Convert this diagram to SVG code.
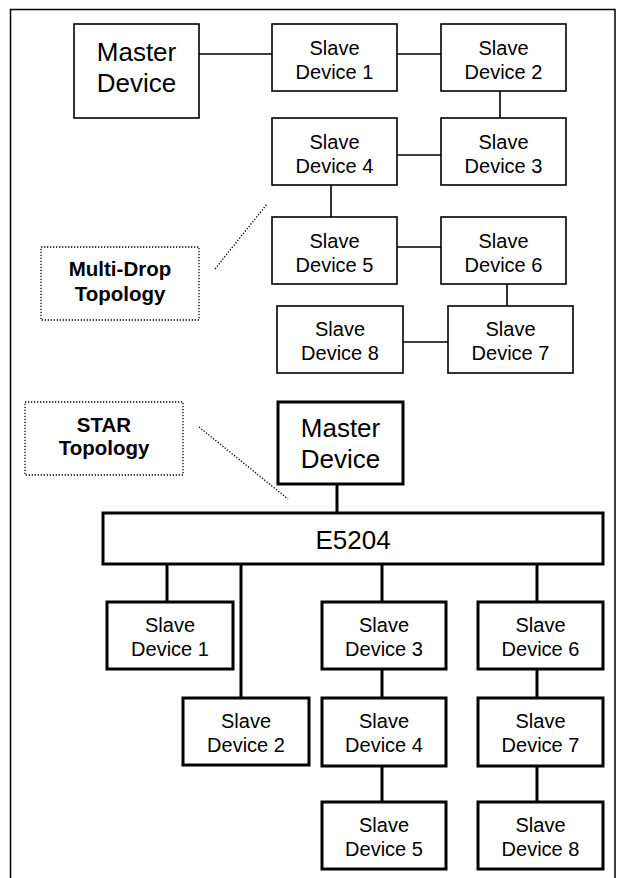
<svg xmlns="http://www.w3.org/2000/svg" width="623" height="878" viewBox="0 0 623 878">
<style>
  .thin{fill:#fff;stroke:#000;stroke-width:1.6}
  .thick{fill:#fff;stroke:#000;stroke-width:3}
  .dot{fill:none;stroke:#000;stroke-width:1.3;stroke-dasharray:1.3 1.7}
  .c1{fill:none;stroke:#000;stroke-width:1.6}
  .c3{fill:none;stroke:#000;stroke-width:3}
  text{font-family:"Liberation Sans",Arial,sans-serif;text-anchor:middle;fill:#000}
  .s{font-size:20px}
  .m{font-size:26px}
  .b{font-size:20.5px;font-weight:bold}
</style>
<rect width="623" height="878" fill="#fff"/>
<path d="M10.5,880 V9.5 H615 V880" fill="none" stroke="#000" stroke-width="1.5"/>

<g id="connectors">
  <path class="c1" d="M199,54 H272 M397,54 H441 M500,91 V118 M397,155 H441 M331,185 V217 M397,247 H441 M507,284 V306 M403,342 H448"/>
  <path class="dot" d="M215,269 L267,204 M199,427 L288,499"/>
  <path class="c3" d="M337,484 V513 M167,564 V602 M241,564 V698 M382,564 V602 M537,564 V602 M382,669 V698 M382,766 V802 M537,669 V698 M537,766 V802"/>
</g>

<g id="md-master"><rect class="thin" x="74" y="24" width="125" height="94"/><text class="m" x="136.5" y="61">Master</text><text class="m" x="136.5" y="92">Device</text></g>
<g id="md-slave1"><rect class="thin" x="272" y="24" width="125" height="67"/><text class="s" x="334.5" y="54.5">Slave</text><text class="s" x="334.5" y="78.5">Device 1</text></g>
<g id="md-slave2"><rect class="thin" x="441" y="24" width="125" height="67"/><text class="s" x="503.5" y="54.5">Slave</text><text class="s" x="503.5" y="78.5">Device 2</text></g>
<g id="md-slave4"><rect class="thin" x="272" y="118" width="125" height="67"/><text class="s" x="334.5" y="148.5">Slave</text><text class="s" x="334.5" y="172.5">Device 4</text></g>
<g id="md-slave3"><rect class="thin" x="441" y="118" width="125" height="67"/><text class="s" x="503.5" y="148.5">Slave</text><text class="s" x="503.5" y="172.5">Device 3</text></g>
<g id="md-slave5"><rect class="thin" x="272" y="217" width="125" height="67"/><text class="s" x="334.5" y="247.5">Slave</text><text class="s" x="334.5" y="271.5">Device 5</text></g>
<g id="md-slave6"><rect class="thin" x="441" y="217" width="125" height="67"/><text class="s" x="503.5" y="247.5">Slave</text><text class="s" x="503.5" y="271.5">Device 6</text></g>
<g id="md-slave8"><rect class="thin" x="277" y="306" width="126" height="67"/><text class="s" x="340" y="336">Slave</text><text class="s" x="340" y="360">Device 8</text></g>
<g id="md-slave7"><rect class="thin" x="448" y="306" width="125" height="67"/><text class="s" x="510.5" y="336">Slave</text><text class="s" x="510.5" y="360">Device 7</text></g>

<g id="label-multidrop"><rect class="dot" x="41" y="247" width="158" height="73"/><text class="b" x="120" y="276">Multi-Drop</text><text class="b" x="120" y="301">Topology</text></g>
<g id="label-star"><rect class="dot" x="25" y="402" width="158" height="73"/><text class="b" x="104" y="432">STAR</text><text class="b" x="104" y="455">Topology</text></g>

<g id="st-master"><rect class="thick" x="278" y="402" width="125" height="82"/><text class="m" x="340.5" y="437">Master</text><text class="m" x="340.5" y="468">Device</text></g>
<g id="st-e5204"><rect class="thick" x="103" y="513" width="500" height="51"/><text class="m" x="353" y="549">E5204</text></g>
<g id="st-slave1"><rect class="thick" x="107" y="602" width="126" height="67"/><text class="s" x="170" y="632">Slave</text><text class="s" x="170" y="656">Device 1</text></g>
<g id="st-slave3"><rect class="thick" x="322" y="602" width="124" height="67"/><text class="s" x="384" y="632">Slave</text><text class="s" x="384" y="656">Device 3</text></g>
<g id="st-slave6"><rect class="thick" x="478" y="602" width="125" height="67"/><text class="s" x="540.5" y="632">Slave</text><text class="s" x="540.5" y="656">Device 6</text></g>
<g id="st-slave2"><rect class="thick" x="183" y="698" width="126" height="67"/><text class="s" x="246" y="728">Slave</text><text class="s" x="246" y="752">Device 2</text></g>
<g id="st-slave4"><rect class="thick" x="322" y="698" width="124" height="68"/><text class="s" x="384" y="728">Slave</text><text class="s" x="384" y="752">Device 4</text></g>
<g id="st-slave7"><rect class="thick" x="478" y="698" width="125" height="68"/><text class="s" x="540.5" y="728">Slave</text><text class="s" x="540.5" y="752">Device 7</text></g>
<g id="st-slave5"><rect class="thick" x="322" y="802" width="124" height="67"/><text class="s" x="384" y="832">Slave</text><text class="s" x="384" y="856">Device 5</text></g>
<g id="st-slave8"><rect class="thick" x="478" y="802" width="125" height="67"/><text class="s" x="540.5" y="832">Slave</text><text class="s" x="540.5" y="856">Device 8</text></g>
</svg>
